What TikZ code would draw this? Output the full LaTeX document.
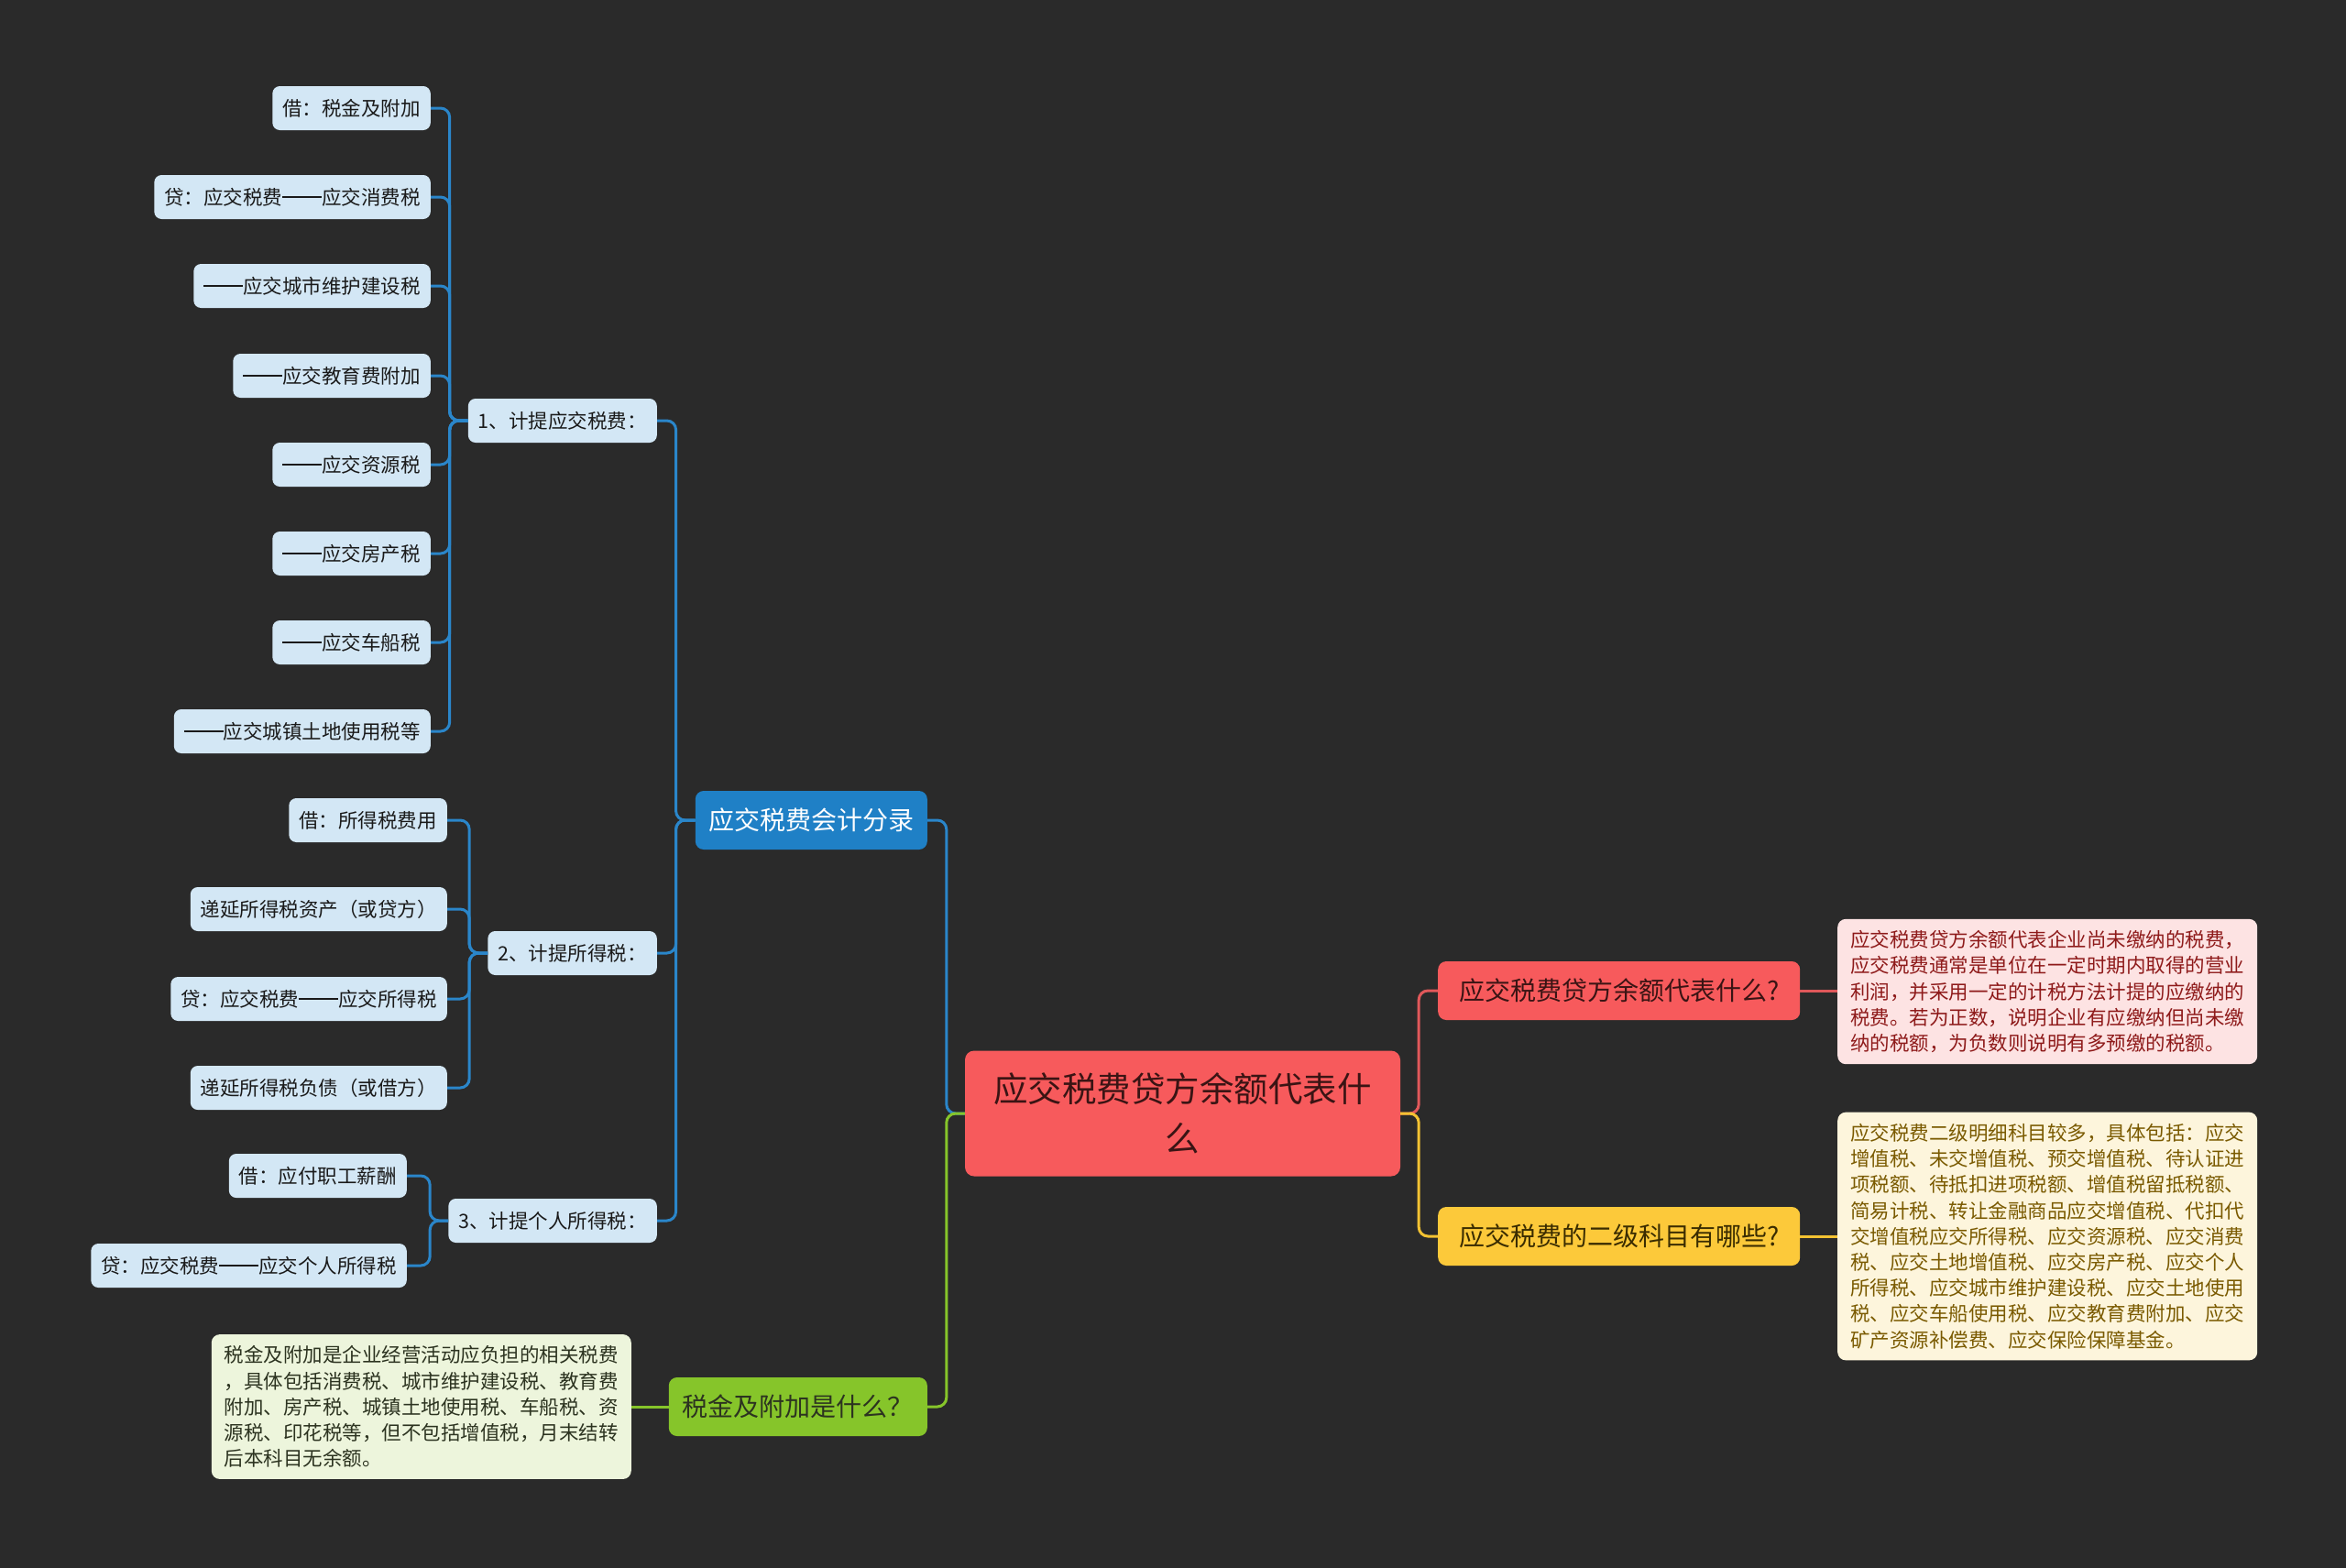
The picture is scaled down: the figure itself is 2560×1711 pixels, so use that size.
\documentclass[tikz,border=0pt]{standalone}
\usepackage{fontspec}
\setmainfont{Noto Sans CJK SC}
\newcommand\ddash{\rule[0.34em]{2em}{0.07em}}
\definecolor{bg}{HTML}{2A2A2A}
\definecolor{leaffill}{HTML}{D3E7F5}
\definecolor{leaftext}{HTML}{1A1A1A}
\definecolor{bluenode}{HTML}{1F80C6}
\definecolor{blueline}{HTML}{2A86CA}
\definecolor{greennode}{HTML}{86C52A}
\definecolor{greenbox}{HTML}{EDF5DC}
\definecolor{greentext}{HTML}{2C3320}
\definecolor{rednode}{HTML}{F75A5C}
\definecolor{redline}{HTML}{E0585A}
\definecolor{redtext}{HTML}{3A1414}
\definecolor{pinkbox}{HTML}{FDE3E3}
\definecolor{pinktext}{HTML}{8E1A1A}
\definecolor{yellownode}{HTML}{FCC93A}
\definecolor{yellowline}{HTML}{F3C232}
\definecolor{yellowtext}{HTML}{3A2C00}
\definecolor{yellowbox}{HTML}{FDF5DC}
\definecolor{yellowboxtext}{HTML}{7A5A00}
\begin{document}
\begin{tikzpicture}[x=1pt,y=-1pt,
  leaf/.style={fill=leaffill, text=leaftext, rounded corners=8pt, inner xsep=11pt, inner ysep=0pt,
    minimum height=48pt, font=\fontsize{21.5pt}{26pt}\selectfont, anchor=east},
  mainnode/.style={rounded corners=9pt, inner xsep=14pt, inner ysep=0pt, minimum height=64pt,
    font=\fontsize{28pt}{34pt}\selectfont},
  textbox/.style={rounded corners=9pt, inner xsep=14pt, inner ysep=12.5pt, align=left,
    font=\fontsize{21.5pt}{28.2pt}\selectfont, anchor=west},
  conn/.style={line width=3pt, rounded corners=10pt},
]
\fill[bg] (0,0) rectangle (2560,1711);
\useasboundingbox (0,0) rectangle (2560,1711);

% level-3 leaves, set 1
\node[leaf] (a1) at (470,118) {借：税金及附加};
\node[leaf] (a2) at (470,215) {贷：应交税费\ddash 应交消费税};
\node[leaf] (a3) at (470,312) {\ddash 应交城市维护建设税};
\node[leaf] (a4) at (470,410) {\ddash 应交教育费附加};
\node[leaf] (a5) at (470,507) {\ddash 应交资源税};
\node[leaf] (a6) at (470,604) {\ddash 应交房产税};
\node[leaf] (a7) at (470,701) {\ddash 应交车船税};
\node[leaf] (a8) at (470,798) {\ddash 应交城镇土地使用税等};
% set 2
\node[leaf] (b1) at (488,895) {借：所得税费用};
\node[leaf] (b2) at (488,992) {递延所得税资产（或贷方）};
\node[leaf] (b3) at (488,1090) {贷：应交税费\ddash 应交所得税};
\node[leaf] (b4) at (488,1187) {递延所得税负债（或借方）};
% set 3
\node[leaf] (c1) at (444,1283) {借：应付职工薪酬};
\node[leaf] (c2) at (444,1381) {贷：应交税费\ddash 应交个人所得税};

% level-2
\node[leaf] (m1) at (717,459) {1、计提应交税费：};
\node[leaf] (m2) at (717,1040) {2、计提所得税：};
\node[leaf] (m3) at (717,1332) {3、计提个人所得税：};

% level-1
\node[mainnode, fill=bluenode, text=white, anchor=east, minimum width=253pt] (blue) at (1012,895) {应交税费会计分录};
\node[mainnode, fill=greennode, text=greentext, anchor=east, minimum width=282pt] (green) at (1012,1535) {税金及附加是什么？};
\node[mainnode, fill=rednode, text=redtext, anchor=west, minimum width=395pt] (red) at (1569,1081) {应交税费贷方余额代表什么?};
\node[mainnode, fill=yellownode, text=yellowtext, anchor=west, minimum width=395pt] (yellow) at (1569,1349) {应交税费的二级科目有哪些?};

% root
\node[fill=rednode, text=redtext, rounded corners=10pt, minimum width=475pt, minimum height=137pt,
  align=center, font=\fontsize{37.5pt}{54pt}\selectfont] (root) at (1290.5,1215) {应交税费贷方余额代表什\\么};

% text boxes
\node[textbox, fill=pinkbox, text=pinktext] (pink) at (2005,1082) {应交税费贷方余额代表企业尚未缴纳的税费，\\应交税费通常是单位在一定时期内取得的营业\\利润，并采用一定的计税方法计提的应缴纳的\\税费。若为正数，说明企业有应缴纳但尚未缴\\纳的税额，为负数则说明有多预缴的税额。};
\node[textbox, fill=yellowbox, text=yellowboxtext] (ybox) at (2005,1349) {应交税费二级明细科目较多，具体包括：应交\\增值税、未交增值税、预交增值税、待认证进\\项税额、待抵扣进项税额、增值税留抵税额、\\简易计税、转让金融商品应交增值税、代扣代\\交增值税应交所得税、应交资源税、应交消费\\税、应交土地增值税、应交房产税、应交个人\\所得税、应交城市维护建设税、应交土地使用\\税、应交车船使用税、应交教育费附加、应交\\矿产资源补偿费、应交保险保障基金。};
\node[textbox, fill=greenbox, text=greentext, anchor=east] (gbox) at (689,1535) {税金及附加是企业经营活动应负担的相关税费\\，具体包括消费税、城市维护建设税、教育费\\附加、房产税、城镇土地使用税、车船税、资\\源税、印花税等，但不包括增值税，月末结转\\后本科目无余额。};

% connectors
\foreach \c in {a1,a2,a3,a4,a5,a6,a7,a8}
  \draw[conn, blueline] (m1.west) -- ++(-20,0) |- (\c.east);
\foreach \c in {b1,b2,b3,b4}
  \draw[conn, blueline] (m2.west) -- ++(-20,0) |- (\c.east);
\foreach \c in {c1,c2}
  \draw[conn, blueline] (m3.west) -- ++(-20,0) |- (\c.east);
\foreach \c in {m1,m2,m3}
  \draw[conn, blueline] (blue.west) -- ++(-21,0) |- (\c.east);

\draw[conn, blueline] (root.west) -- ++(-20,0) |- (blue.east);
\draw[conn, greennode] (root.west) -- ++(-20,0) |- (green.east);
\draw[conn, greennode] (green.west) -- (gbox.east);

\draw[conn, redline] (root.east) -- ++(20,0) |- (red.west);
\draw[conn, yellowline] (root.east) -- ++(20,0) |- (yellow.west);
\draw[conn, redline] (red.east) -- (pink.west |- red.east);
\draw[conn, yellowline] (yellow.east) -- (ybox.west |- yellow.east);
\end{tikzpicture}
\end{document}
